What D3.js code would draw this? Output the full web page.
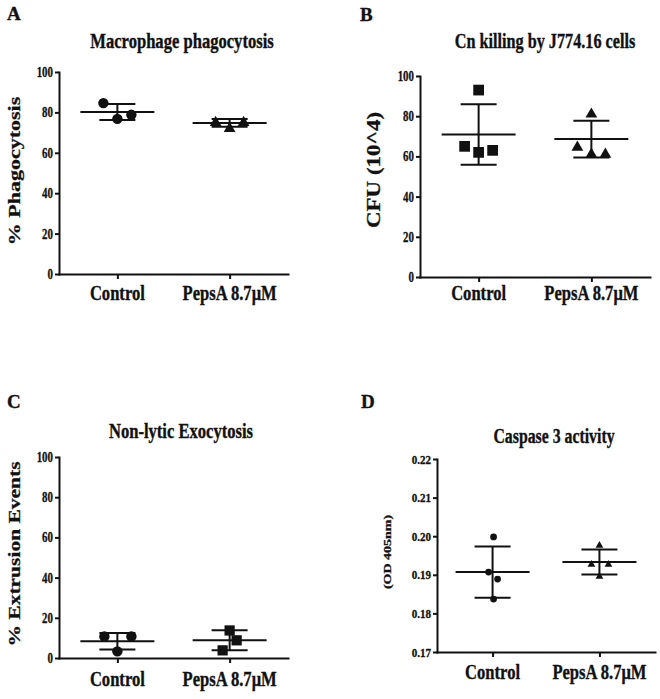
<!DOCTYPE html>
<html>
<head>
<meta charset="utf-8">
<script src="https://cdn.jsdelivr.net/npm/d3@7"></script>
<style>
  html, body { margin: 0; padding: 0; background: #fff; }
  svg { display: block; }
</style>
</head>
<body>
<script>
// ---------- data ----------
const categories = ["Control", "PepsA 8.7\u03BCM"];

// A: Macrophage phagocytosis (%)
const phagoControl = [84.6, 76.8, 78.8];
const phagoPepsA   = [75.5, 72.5, 75.5];
const phagoMean    = [80.2, 74.8];
const phagoSD      = [4.0, 1.95];

// B: Cn killing by J774.16 cells, CFU (10^4)
const cfuControl = [93.0, 65.0, 62.0, 63.0];
const cfuPepsA   = [81.5, 65.0, 61.5, 61.5];
const cfuMean    = [70.9, 68.6];
const cfuSD      = [15.0, 9.1];

// C: Non-lytic exocytosis (% extrusion events)
const exoControl = [10.7, 3.3, 10.7];
const exoPepsA   = [13.7, 8.8, 3.8];
const exoMean    = [8.3, 8.8];
const exoSD      = [4.1, 4.95];

// D: Caspase 3 activity (OD 405nm)
const caspControl = [0.1998, 0.1907, 0.1889, 0.1837];
const caspPepsA   = [0.1977, 0.1928, 0.1928, 0.1897];
const caspMean    = [0.1907, 0.1933];
const caspSD      = [0.00665, 0.00325];

const ticksPct = [0, 20, 40, 60, 80, 100];
const ticksOD  = [0.17, 0.18, 0.19, 0.20, 0.21, 0.22];

// ---------- drawing ----------
const W = 660, H = 699;
const FONT = "'Liberation Serif', 'Times New Roman', Times, serif";
const INK = "#111";
const CS = 0.79; // horizontal condensing of the figure's text

const svg = d3.select("body").append("svg")
  .attr("width", W).attr("height", H)
  .attr("font-family", FONT);

function label(g, x, y, str, size, opts = {}) {
  const sx = opts.sx == null ? CS : opts.sx;
  const rot = opts.rotate ? " rotate(-90)" : "";
  return g.append("text")
    .attr("transform", `translate(${x},${y}) scale(${sx},1)${rot}`)
    .attr("text-anchor", opts.anchor || "middle")
    .attr("dy", opts.dy || 0)
    .attr("font-size", size)
    .attr("font-weight", "bold")
    .attr("fill", INK)
    .attr("stroke", INK)
    .attr("stroke-width", 0.35)
    .text(str);
}

function panel(cfg) {
  const g = svg.append("g");
  const x = d3.scalePoint().domain(categories).range([cfg.x0, cfg.x1]).padding(0.52);
  const y = d3.scaleLinear().domain(cfg.domain).range([cfg.yBot, cfg.yTop]);

  // y axis
  const ya = g.append("g")
    .attr("transform", `translate(${cfg.x0},0)`)
    .call(d3.axisLeft(y).tickValues(cfg.ticks).tickFormat(cfg.fmt).tickSize(4).tickSizeOuter(0));
  ya.select(".domain").attr("stroke", INK).attr("stroke-width", 2).attr("stroke-linecap", "square");
  ya.selectAll(".tick line").attr("stroke", INK).attr("stroke-width", 2);
  ya.selectAll(".tick text")
    .attr("font-family", FONT).attr("font-weight", "bold")
    .attr("font-size", cfg.tickFont).attr("fill", INK)
    .attr("stroke", INK).attr("stroke-width", 0.3)
    .attr("x", -6 / cfg.tickCS)
    .attr("transform", `scale(${cfg.tickCS},1)`);

  // x axis
  const xa = g.append("g")
    .attr("transform", `translate(0,${cfg.yBot})`)
    .call(d3.axisBottom(x).tickSize(5).tickSizeOuter(0).tickFormat(""));
  xa.select(".domain").attr("stroke", INK).attr("stroke-width", 2).attr("stroke-linecap", "square");
  xa.selectAll(".tick line").attr("stroke", INK).attr("stroke-width", 2);

  // category labels
  categories.forEach(c => label(g, x(c), cfg.catY, c, 21));

  // title, panel letter, y label
  label(g, cfg.titleX, cfg.titleY, cfg.title, cfg.titleSize);
  label(g, cfg.letterX, cfg.letterY, cfg.letter, 19, { sx: 1, anchor: "start" });
  label(g, cfg.ylabX, cfg.ylabY, cfg.ylab, cfg.ylabSize, { rotate: true, dy: "0.35em" });

  // mean ± SD
  categories.forEach((c, i) => {
    const cx = x(c), m = cfg.mean[i], s = cfg.sd[i];
    const eb = g.append("g").attr("stroke", INK).attr("stroke-width", 2).attr("fill", "none");
    eb.append("line").attr("x1", cx - 37).attr("x2", cx + 37).attr("y1", y(m)).attr("y2", y(m));
    eb.append("line").attr("x1", cx).attr("x2", cx).attr("y1", y(m + s)).attr("y2", y(m - s));
    eb.append("line").attr("x1", cx - 18).attr("x2", cx + 18).attr("y1", y(m + s)).attr("y2", y(m + s));
    eb.append("line").attr("x1", cx - 18).attr("x2", cx + 18).attr("y1", y(m - s)).attr("y2", y(m - s));
  });

  // points
  cfg.series.forEach((s, i) => {
    const cx = x(categories[i]);
    const sym = d3.symbol().type(s.type).size(s.size);
    g.append("g").selectAll("path").data(s.values).join("path")
      .attr("d", sym)
      .attr("fill", INK)
      .attr("transform", (v, j) => `translate(${cx + s.offsets[j]},${y(v) + (s.dy || 0)})`);
  });
}

const fmtInt = d3.format("d");
const fmtOD = d3.format(".2f");

panel({
  letter: "A", letterX: 7, letterY: 20,
  title: "Macrophage phagocytosis", titleX: 182, titleY: 48, titleSize: 21,
  ylab: "% Phagocytosis", ylabX: 14, ylabY: 171, ylabSize: 22,
  x0: 59, x1: 288, yTop: 72, yBot: 274, catY: 300,
  domain: [0, 100], ticks: ticksPct, fmt: fmtInt, tickFont: 14, tickCS: 0.78,
  mean: phagoMean, sd: phagoSD,
  series: [
    { values: phagoControl, type: d3.symbolCircle, size: 85, offsets: [-14, 0, 14] },
    { values: phagoPepsA, type: d3.symbolTriangle, size: 60, offsets: [-14, 0, 14], dy: 1 }
  ]
});

panel({
  letter: "B", letterX: 360, letterY: 21,
  title: "Cn killing by J774.16 cells", titleX: 545, titleY: 48, titleSize: 20.5,
  ylab: "CFU (10^4)", ylabX: 374, ylabY: 170, ylabSize: 23,
  x0: 420, x1: 650, yTop: 76, yBot: 277, catY: 300,
  domain: [0, 100], ticks: ticksPct, fmt: fmtInt, tickFont: 14, tickCS: 0.78,
  mean: cfuMean, sd: cfuSD,
  series: [
    { values: cfuControl, type: d3.symbolSquare, size: 115, offsets: [0, -14, 0, 14] },
    { values: cfuPepsA, type: d3.symbolTriangle, size: 60, offsets: [0, -14, 0, 14], dy: 1 }
  ]
});

panel({
  letter: "C", letterX: 7, letterY: 408,
  title: "Non-lytic Exocytosis", titleX: 181, titleY: 438, titleSize: 21,
  ylab: "% Extrusion Events", ylabX: 14, ylabY: 554, ylabSize: 21.5,
  x0: 59, x1: 288, yTop: 457, yBot: 658, catY: 686,
  domain: [0, 100], ticks: ticksPct, fmt: fmtInt, tickFont: 14, tickCS: 0.78,
  mean: exoMean, sd: exoSD,
  series: [
    { values: exoControl, type: d3.symbolCircle, size: 85, offsets: [-13, 0, 14] },
    { values: exoPepsA, type: d3.symbolSquare, size: 105, offsets: [0, 7, -7] }
  ]
});

panel({
  letter: "D", letterX: 361, letterY: 408,
  title: "Caspase 3 activity", titleX: 554, titleY: 443, titleSize: 20,
  ylab: "(OD  405nm)", ylabX: 387, ylabY: 552, ylabSize: 14,
  x0: 437, x1: 655, yTop: 459, yBot: 652, catY: 679,
  domain: [0.17, 0.22], ticks: ticksOD, fmt: fmtOD, tickFont: 13, tickCS: 0.85,
  mean: caspMean, sd: caspSD,
  series: [
    { values: caspControl, type: d3.symbolCircle, size: 36, offsets: [1, -4, 5, 1] },
    { values: caspPepsA, type: d3.symbolTriangle, size: 26, offsets: [0, -8, 9, 0], dy: 0.5 }
  ]
});
</script>
</body>
</html>
